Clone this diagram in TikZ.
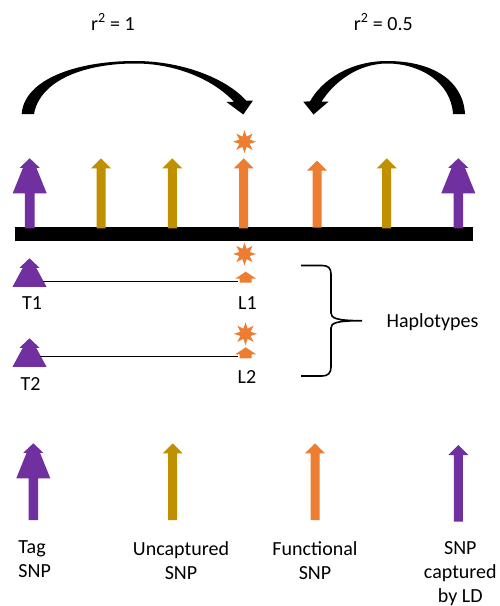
\documentclass[tikz,border=0pt]{standalone}
\usepackage{fontspec}
\setmainfont{Carlito}
\usetikzlibrary{shapes.geometric}
\definecolor{tagpurple}{HTML}{7030A0}
\definecolor{snpgold}{HTML}{BF9000}
\definecolor{snporange}{HTML}{ED7D31}
\tikzset{
  pics/thinsnp/.style 2 args={code={
    \fill[#1] (0,0) -- (10,10) -- (4.5,10) -- (4.5,#2) -- (-4.5,#2) -- (-4.5,10) -- (-10,10) -- cycle;
  }},
  pics/treesnp/.style 2 args={code={
    \fill[#1] (0,0) -- (10,9.5) -- (6.7,9.5) -- (17,35) -- (4.8,35) -- (4.8,#2) -- (-4.8,#2) -- (-4.8,35) -- (-17,35) -- (-6.7,9.5) -- (-10,9.5) -- cycle;
  }},
  pics/treehead/.style={code={
    \fill[tagpurple] (0,0) -- (10,9.5) -- (6.7,9.5) -- (17,28.5) -- (-17,28.5) -- (-6.7,9.5) -- (-10,9.5) -- cycle;
  }},
  pics/stubsnp/.style={code={
    \fill[snporange] (0,0) -- (10.5,7) -- (6,7) -- (6,11) -- (-6,11) -- (-6,7) -- (-10.5,7) -- cycle;
  }},
  burst/.style={star, star points=8, star point ratio=2.1, fill=snporange, draw=none, minimum size=23pt, inner sep=0pt},
  lbl/.style={font=\fontsize{20}{24}\selectfont, inner sep=0pt, anchor=base},
  hapline/.style={line width=1.5pt, black},
  curvedarrow/.style={fill=black},
}
\begin{document}
\begin{tikzpicture}[x=1pt,y=-1pt]
\useasboundingbox[fill=white] (0,0) rectangle (499,606);

% r^2 labels
\node[lbl] (r1) at (113,30) {r\textsuperscript{2} = 1};
\node[lbl] (r2) at (383.3,30) {r\textsuperscript{2} = 0.5};

% curved arrows
\fill[curvedarrow] (21.7,114) .. controls (24,80) and (75,61) .. (135,61)
  .. controls (185,61) and (228,80) .. (246,100.5) -- (253,100.5) -- (243.3,114.5) -- (226.5,102)
  -- (234,101.8) .. controls (218,84) and (182,63.5) .. (135,63.5)
  .. controls (85,63.5) and (40,80) .. (34,114) -- cycle;
\fill[curvedarrow] (465,114) .. controls (463,80) and (432,61) .. (387,61)
  .. controls (350,61) and (322,80) .. (310,101.3) -- (303.3,101.7) -- (313.5,114.5) -- (328.5,101.7)
  -- (321.5,101.7) .. controls (334,82) and (358,63.5) .. (387,63.5)
  .. controls (420,63.5) and (451,82) .. (453,114) -- cycle;

% chromosome bar with SNPs
\fill[black] (15,227) rectangle (473,241);
\pic at (29.7,158.3) {treesnp={tagpurple}{70}};
\pic at (101,158.3) {thinsnp={snpgold}{70}};
\pic at (172.3,158.3) {thinsnp={snpgold}{70}};
\pic at (243.7,158.3) {thinsnp={snporange}{70}};
\pic at (317,160.7) {thinsnp={snporange}{67}};
\pic at (386.7,158.3) {thinsnp={snpgold}{70}};
\pic at (458.3,158.3) {treesnp={tagpurple}{70}};
\node[burst] (s0) at (244.5,141.7) {};

% haplotypes
\pic at (29.5,258.3) {treehead};
\pic at (245.7,271.7) {stubsnp};
\node[burst] (s1) at (244.5,254) {};
\coordinate (t1e) at (43,281.7);
\coordinate (l1e) at (238,281.7);
\draw[hapline] (t1e) -- (l1e);
\node[lbl] (t1) at (32,309.3) {T1};
\node[lbl] (l1) at (247.5,309.3) {L1};

\pic at (29.5,338.3) {treehead};
\pic at (245.7,347.3) {stubsnp};
\node[burst] (s2) at (245.5,333.8) {};
\coordinate (t2e) at (40,356.7);
\coordinate (l2e) at (238,356.7);
\draw[hapline] (t2e) -- (l2e);
\node[lbl] (t2) at (30.5,390) {T2};
\node[lbl] (l2) at (247,383.3) {L2};

% brace
\coordinate (bt) at (301,265.5);
\coordinate (bb) at (301,376);
\coordinate (btip) at (362,320.7);
\draw[line width=1.6pt] (bt) -- (322,265.5) .. controls (328,265.5) and (331,268) .. (331,274)
  -- (331,313) .. controls (331,318) and (336,320.7) .. (btip)
  .. controls (336,320.7) and (331,323) .. (331,328)
  -- (331,367) .. controls (331,373) and (328,376) .. (322,376) -- (bb);
\node[lbl] (hap) at (432.5,327.3) {Haplotypes};

% legend
\pic at (33.3,443.3) {treesnp={tagpurple}{76.7}};
\pic at (172.7,443.3) {thinsnp={snpgold}{76.7}};
\pic at (315,443.3) {thinsnp={snporange}{76.7}};
\pic at (458.3,445) {thinsnp={tagpurple}{76.7}};

\node[lbl, align=left, anchor=base west] (lg1) at (18.3,577.3) {Tag\\SNP};
\node[lbl, align=center] (lg2) at (181,579.3) {Uncaptured\\SNP};
\node[lbl, align=center] (lg3) at (315,579.3) {Functional\\SNP};
\node[lbl, align=center] (lg4) at (460.3,602) {SNP\\captured\\by LD};
\end{tikzpicture}
\end{document}
